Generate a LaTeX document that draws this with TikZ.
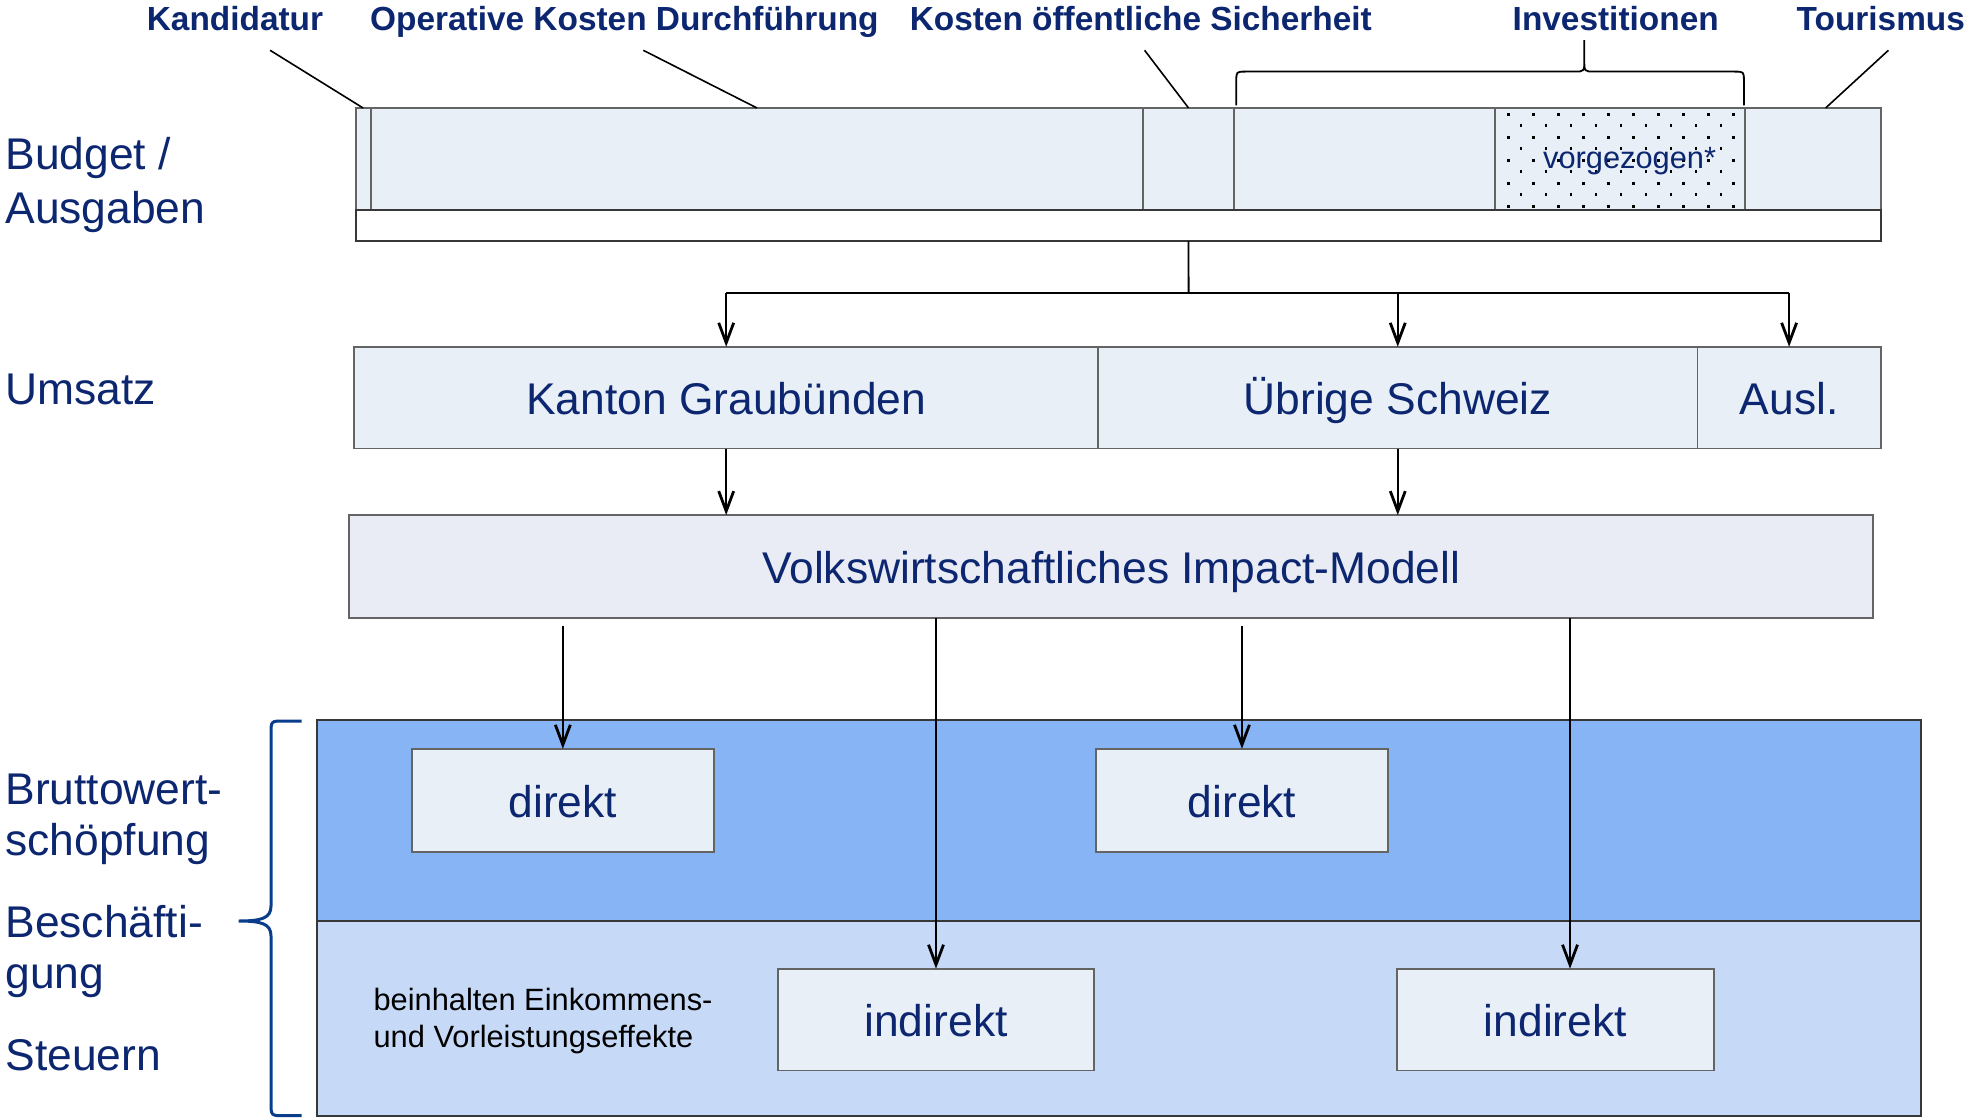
\documentclass[tikz,border=0pt]{standalone}
\usepackage{fontspec}
\setmainfont{Liberation Sans}
\usetikzlibrary{arrows.meta,fit}
\definecolor{navy}{RGB}{12,38,112}
\definecolor{lightfill}{RGB}{232,239,247}
\definecolor{impfill}{RGB}{233,236,245}
\definecolor{bandtop}{RGB}{134,180,245}
\definecolor{bandbot}{RGB}{198,218,248}
\definecolor{boxline}{RGB}{100,100,100}
\definecolor{bandline}{RGB}{55,55,55}
\definecolor{bracecol}{RGB}{10,60,140}
\begin{document}
\begin{tikzpicture}[x=0.5pt,y=-0.5pt,
 seg/.style={draw=boxline,fill=lightfill,line width=0.9pt,inner sep=0pt,outer sep=0pt},
 band/.style={draw=bandline,line width=1.1pt,inner sep=0pt,outer sep=0pt},
 bigtxt/.style={text=navy,font=\fontsize{22.2}{27}\selectfont,inner sep=0pt},
 boxtxt/.style={bigtxt,anchor=base},
 toptxt/.style={text=navy,font=\bfseries\fontsize{16.7}{20}\selectfont,inner sep=0pt},
 smalltxt/.style={font=\fontsize{15.4}{18.2}\selectfont,inner sep=0pt},
 conn/.style={draw=black,line width=0.9pt},
 arr/.style={conn,-{Straight Barb[length=10pt,width=7.5pt,line width=1.4pt]}},
]
\useasboundingbox[fill=white] (0,0) rectangle (1970,1118);

% ---------- budget bar ----------
\node[seg,fit={(355.6,108) (370.6,209.8)}] (kand) {};
\node[seg,fit={(370.6,108) (1143.3,209.8)}] (oper) {};
\node[seg,fit={(1143.3,108) (1233.8,209.8)}] (sich) {};
\node[seg,fit={(1233.8,108) (1495.1,209.8)}] (inv) {};
\node[seg,fit={(1495.1,108) (1745.1,209.8)}] (vorg) {};
\node[seg,fit={(1745.1,108) (1880.8,209.8)}] (tour) {};
\node[draw=bandline,fill=white,line width=1pt,inner sep=0pt,outer sep=0pt,fit={(355.6,209.8) (1880.8,241.2)}] (white) {};
\foreach \r in {0,2,4,6,8}{\foreach \c in {0,...,9}{\fill (1507+\c*25,113+\r*11.5) rectangle ++(2.6,2.6);}}
\foreach \r in {1,3,5,7}{\foreach \c in {0,...,8}{\fill (1519.5+\c*25,113+\r*11.5) rectangle ++(2.6,2.6);}}
\node[smalltxt,text=navy,anchor=base] (tvorg) at (1629.6,168.6) {vorgezogen*};

% ---------- top labels ----------
\node[toptxt,anchor=base] (lkand) at (235,30.2) {Kandidatur};
\node[toptxt,anchor=base] (loper) at (624.4,30.2) {Operative Kosten Durchführung};
\node[toptxt,anchor=base] (lsich) at (1140.8,30.2) {Kosten öffentliche Sicherheit};
\node[toptxt,anchor=base] (linv) at (1615.7,30.2) {Investitionen};
\node[toptxt,anchor=base] (ltour) at (1880.8,30.2) {Tourismus};
\coordinate (ckand) at (270.1,50.3);
\coordinate (coper) at (643.3,50.3);
\coordinate (csich) at (1144.6,50.3);
\coordinate (ctour) at (1888.4,50.3);
\coordinate (etour) at (1825.6,108);
\draw[conn,line width=0.8pt] (ckand) -- (kand.north);
\draw[conn,line width=0.8pt] (coper) -- (oper.north);
\draw[conn,line width=0.8pt] (csich) -- (sich.north);
\draw[conn,line width=0.8pt] (ctour) -- (etour);
% Investitionen brace
\draw[conn,line width=0.9pt] (1236.3,105.5) -- (1236.3,81) .. controls (1236.3,71.6) .. (1246,71.6)
  -- (1574,71.6) .. controls (1584.3,71.6) .. (1584.3,60) -- (1584.3,40.2) -- (1584.3,60)
  .. controls (1584.3,71.6) .. (1594.6,71.6) -- (1734,71.6) .. controls (1743.9,71.6) .. (1743.9,81) -- (1743.9,105.5);

% ---------- Umsatz ----------
\node[seg,fit={(354.3,346.8) (1098.1,448.5)}] (kgr) {};
\node[seg,fit={(1098.1,346.8) (1697.4,448.5)}] (ubr) {};
\node[seg,fit={(1697.4,346.8) (1880.8,448.5)}] (ausl) {};
\node[boxtxt] (tkgr) at ([yshift=-8.5pt]kgr.center) {Kanton Graubünden};
\node[boxtxt] (tubr) at ([yshift=-8.5pt]ubr.center) {Übrige Schweiz};
\node[boxtxt] (tausl) at ([yshift=-8.5pt]ausl.center) {Ausl.};

\coordinate (tj) at (1188.6,292.7);
\draw[conn] (sich.center |- white.south) -- (tj);
\draw[conn] (kgr.north |- tj) -- (ausl.north |- tj);
\draw[arr] (kgr.north |- tj) -- (kgr.north);
\draw[arr] (ubr.north |- tj) -- (ubr.north);
\draw[arr] (ausl.north |- tj) -- (ausl.north);

% ---------- Impact model ----------
\node[seg,fill=impfill,fit={(349.3,515.1) (1873.3,618.1)}] (imp) {};
\node[boxtxt] (timp) at ([yshift=-8.5pt]imp.center) {Volkswirtschaftliches Impact-Modell};
\draw[arr] (kgr.south) -- (kgr.south |- imp.north);
\draw[arr] (ubr.south) -- (ubr.south |- imp.north);

% ---------- bands ----------
\node[band,fill=bandtop,fit={(316.6,719.9) (1921.0,920.9)}] (btop) {};
\node[band,fill=bandbot,fit={(316.6,920.9) (1921.0,1115.7)}] (bbot) {};
\node[seg,fit={(412.1,748.8) (713.6,851.8)}] (d1) {};
\node[seg,fit={(1095.6,748.8) (1388.3,851.8)}] (d2) {};
\node[seg,fit={(777.7,968.7) (1094.3,1070.4)}] (i1) {};
\node[seg,fit={(1397.1,968.7) (1713.7,1070.4)}] (i2) {};
\node[boxtxt] (td1) at ([yshift=-8.5pt]d1.center) {direkt};
\node[boxtxt] (td2) at ([yshift=-8.5pt]d2.center) {direkt};
\node[boxtxt] (ti1) at ([yshift=-8.5pt]i1.center) {indirekt};
\node[boxtxt] (ti2) at ([yshift=-8.5pt]i2.center) {indirekt};
\node[smalltxt,anchor=west,align=left] (tbein) at (373.2,1021) {beinhalten Einkommens-\\und Vorleistungseffekte};

\coordinate (a4) at (1570,0);
\draw[arr] (d1.north |- imp.south) ++(0,7.5) -- (d1.north);
\draw[arr] (i1.north |- imp.south) -- (i1.north);
\draw[arr] (d2.north |- imp.south) ++(0,7.5) -- (d2.north);
\draw[arr] (a4 |- imp.south) -- (a4 |- i2.north);

% ---------- left labels ----------
\node[bigtxt,anchor=base west] (lb1) at (5,169.6) {Budget /};
\node[bigtxt,anchor=base west] (lb2) at (5,223.6) {Ausgaben};
\node[bigtxt,anchor=base west] (lu) at (5,404.6) {Umsatz};
\node[bigtxt,anchor=base west] (lbr1) at (5,804.1) {Bruttowert-};
\node[bigtxt,anchor=base west] (lbr2) at (5,855.6) {schöpfung};
\node[bigtxt,anchor=base west] (lbe1) at (5,937.3) {Beschäfti-};
\node[bigtxt,anchor=base west] (lbe2) at (5,988.8) {gung};
\node[bigtxt,anchor=base west] (lst) at (5,1070.5) {Steuern};

% left brace
\draw[draw=bracecol,line width=1.5pt] (301.5,721) -- (284,721) .. controls (271,721) .. (271,734)
  -- (271,906) .. controls (271,918) and (262,921) .. (238.7,921)
  .. controls (262,921) and (271,924) .. (271,936) -- (271,1102) .. controls (271,1115.7) .. (284,1115.7) -- (301.5,1115.7);
\end{tikzpicture}
\end{document}
